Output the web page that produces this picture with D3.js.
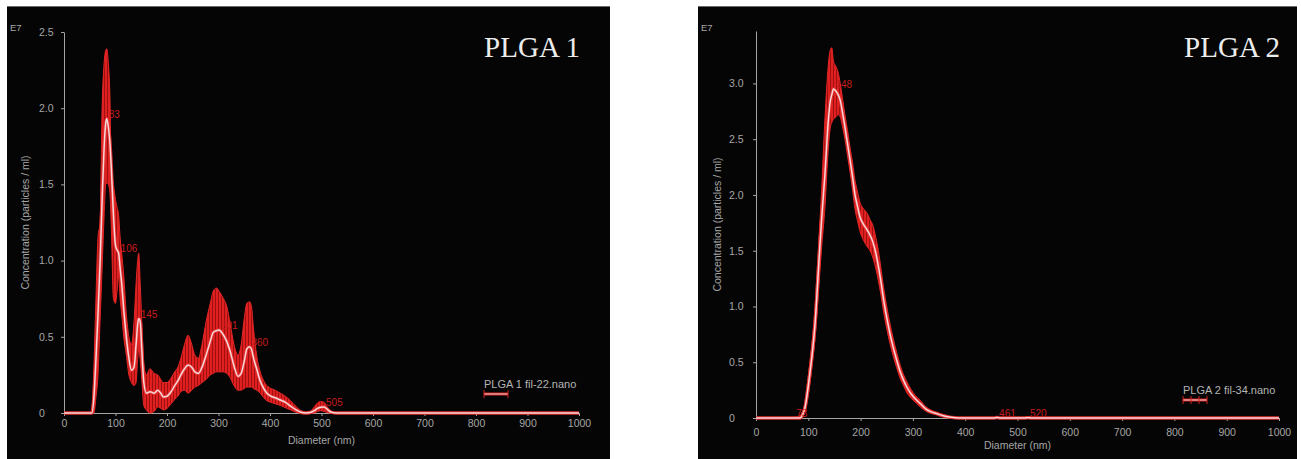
<!DOCTYPE html>
<html>
<head>
<meta charset="utf-8">
<script src="https://cdn.jsdelivr.net/npm/d3@7"></script>
<style>
body{margin:0;background:#fff;}
svg{display:block;}
</style>
</head>
<body>
<svg id="chart" width="1301" height="459"></svg>
<script>
// axis ticks
var xTicks = [0, 100, 200, 300, 400, 500, 600, 700, 800, 900, 1000];
var yTicks1 = [0, 0.5, 1.0, 1.5, 2.0, 2.5];
var yTicks2 = [0, 0.5, 1.0, 1.5, 2.0, 2.5, 3.0];

// PLGA 1 : diameter (nm), mean and error band (E7 particles / ml)
var plga1Diam = [0, 50, 54, 58, 62, 66, 70, 74, 78, 81, 83, 86, 89, 92, 96, 100, 103, 106, 109, 112, 116, 121, 126, 131, 136, 140, 143, 145, 148, 151, 155, 160, 167, 175, 182, 188, 193, 200, 208, 215, 221, 227, 234, 241, 248, 254, 261, 268, 276, 284, 290, 296, 301, 308, 316, 323, 330, 338, 344, 350, 355, 360, 364, 368, 374, 381, 388, 394, 402, 410, 420, 430, 440, 450, 460, 470, 478, 486, 492, 498, 505, 511, 518, 530, 1000];
var plga1Mean = [0, 0, 0, 0.1, 0.35, 0.65, 0.98, 1.4, 1.75, 1.9, 1.93, 1.88, 1.78, 1.6, 1.3, 1.1, 1.07, 1.05, 0.95, 0.85, 0.68, 0.5, 0.36, 0.28, 0.3, 0.45, 0.58, 0.62, 0.6, 0.42, 0.2, 0.13, 0.14, 0.13, 0.15, 0.13, 0.105, 0.11, 0.14, 0.18, 0.21, 0.25, 0.29, 0.315, 0.3, 0.27, 0.26, 0.3, 0.38, 0.47, 0.53, 0.54, 0.545, 0.52, 0.47, 0.4, 0.31, 0.24, 0.26, 0.34, 0.42, 0.435, 0.42, 0.36, 0.29, 0.21, 0.16, 0.13, 0.11, 0.1, 0.085, 0.07, 0.045, 0.022, 0.005, 0, 0.003, 0.015, 0.03, 0.038, 0.04, 0.025, 0.006, 0, 0];
var plga1Hi = [0, 0, 0.02, 0.3, 0.75, 1.15, 1.25, 2.0, 2.3, 2.38, 2.39, 2.3, 2.1, 1.6, 1.5, 1.4, 1.35, 1.3, 1.15, 1.05, 0.9, 0.65, 0.5, 0.45, 0.6, 0.85, 1.0, 1.05, 0.85, 0.6, 0.32, 0.25, 0.29, 0.26, 0.25, 0.22, 0.2, 0.2, 0.23, 0.27, 0.3, 0.36, 0.45, 0.51, 0.45, 0.38, 0.36, 0.45, 0.6, 0.72, 0.8, 0.82, 0.8, 0.76, 0.7, 0.58, 0.45, 0.38, 0.45, 0.62, 0.72, 0.73, 0.7, 0.55, 0.38, 0.27, 0.21, 0.18, 0.16, 0.15, 0.13, 0.11, 0.08, 0.045, 0.015, 0.003, 0.01, 0.04, 0.065, 0.075, 0.07, 0.04, 0.015, 0, 0];
var plga1Lo = [0, 0, 0, 0, 0.1, 0.25, 0.6, 0.95, 1.3, 1.5, 1.51, 1.5, 1.45, 1.2, 0.75, 0.72, 0.8, 0.9, 0.75, 0.65, 0.5, 0.38, 0.25, 0.2, 0.18, 0.2, 0.35, 0.41, 0.35, 0.22, 0.05, 0.02, 0, 0.01, 0.04, 0.03, 0.02, 0.03, 0.06, 0.09, 0.11, 0.14, 0.15, 0.13, 0.15, 0.17, 0.18, 0.2, 0.22, 0.25, 0.26, 0.27, 0.27, 0.27, 0.26, 0.23, 0.18, 0.15, 0.15, 0.16, 0.17, 0.17, 0.17, 0.16, 0.15, 0.13, 0.1, 0.08, 0.07, 0.06, 0.05, 0.035, 0.02, 0.005, 0, 0, 0, 0, 0.01, 0.015, 0.01, 0.003, 0, 0, 0];
var plga1Peaks = [83, 106, 145, 301, 360, 505];

// PLGA 2
var plga2Diam = [0, 60, 70, 78, 84, 90, 94, 98, 103, 108, 113, 119, 125, 132, 138, 142, 145, 148, 153, 157, 161, 165, 170, 175, 180, 185, 189, 194, 199, 205, 212, 218, 224, 229, 234, 239, 244, 250, 256, 262, 269, 276, 282, 288, 296, 305, 314, 325, 335, 345, 358, 370, 380, 395, 455, 461, 467, 514, 520, 526, 1000];
var plga2Mean = [0, 0, 0, 0, 0, 0.04, 0.1, 0.22, 0.4, 0.6, 0.85, 1.3, 1.75, 2.2, 2.65, 2.84, 2.9, 2.95, 2.93, 2.9, 2.85, 2.75, 2.61, 2.46, 2.31, 2.15, 2.01, 1.9, 1.8, 1.74, 1.69, 1.64, 1.57, 1.48, 1.36, 1.22, 1.06, 0.9, 0.76, 0.64, 0.52, 0.41, 0.34, 0.28, 0.22, 0.17, 0.13, 0.08, 0.055, 0.04, 0.02, 0.008, 0.003, 0, 0, 0.004, 0, 0, 0.003, 0, 0];
var plga2Hi = [0, 0, 0.005, 0.01, 0.02, 0.07, 0.15, 0.3, 0.5, 0.72, 1.0, 1.5, 2.0, 2.7, 3.15, 3.3, 3.32, 3.2, 3.15, 3.1, 3.0, 2.88, 2.72, 2.58, 2.42, 2.28, 2.14, 2.03, 1.93, 1.88, 1.84, 1.78, 1.72, 1.62, 1.5, 1.34, 1.17, 1.0, 0.85, 0.72, 0.59, 0.47, 0.39, 0.33, 0.26, 0.2, 0.16, 0.1, 0.07, 0.05, 0.03, 0.012, 0.005, 0.002, 0, 0.01, 0, 0, 0.008, 0, 0];
var plga2Lo = [0, 0, 0, 0, 0, 0.02, 0.06, 0.15, 0.3, 0.5, 0.72, 1.1, 1.5, 1.9, 2.4, 2.6, 2.65, 2.68, 2.7, 2.72, 2.7, 2.62, 2.5, 2.35, 2.2, 2.03, 1.88, 1.77, 1.67, 1.6, 1.54, 1.5, 1.43, 1.34, 1.23, 1.1, 0.95, 0.8, 0.67, 0.56, 0.45, 0.35, 0.29, 0.23, 0.18, 0.14, 0.1, 0.06, 0.04, 0.03, 0.01, 0.004, 0.001, 0, 0, 0, 0, 0, 0, 0, 0];
var plga2Peaks = [73, 148, 461, 520];

var svg = d3.select('#chart');

// striped fill for the error band
var defs = svg.append('defs');
var pat = defs.append('pattern')
  .attr('id', 'hatch')
  .attr('patternUnits', 'userSpaceOnUse')
  .attr('width', 3)
  .attr('height', 10);
pat.append('rect').attr('width', 3).attr('height', 10).attr('fill', '#9c1010');
pat.append('rect').attr('width', 2).attr('height', 10).attr('fill', '#e02020');

function zip(diam, mean, hi, lo){
  var out = [];
  for(var i = 0; i < diam.length; i ++){
    out.push({d: diam[i], m: mean[i], hi: hi[i], lo: lo[i]});
  }
  return out;
}

function drawPanel(p){
  var g = svg.append('g');

  // panel background
  g.append('rect')
   .attr('x', p.left)
   .attr('y', 7)
   .attr('width', p.width)
   .attr('height', 452)
   .attr('fill', '#050505');
  g.append('line')
   .attr('x1', p.left).attr('x2', p.left + p.width)
   .attr('y1', 6.5).attr('y2', 6.5)
   .style('stroke', '#6a6a6a');

  var x = d3.scaleLinear().domain([0, 1000]).range([p.x0, p.x1]);
  var y = d3.scaleLinear().domain([0, p.yMax]).range([p.yBase, p.yTop]);

  var data = zip(p.diam, p.mean, p.hi, p.lo);
  var fmt = function(d){ return d === 0 ? '0' : d3.format('.1f')(d); };

  // x axis
  var xa = g.append('g')
    .attr('transform', 'translate(0,' + p.yBase + ')')
    .call(d3.axisBottom(x).tickValues(xTicks).tickFormat(d3.format('d')).tickSize(3).tickPadding(p.xPad).tickSizeOuter(0));
  xa.select('.domain').style('stroke', '#a4a4a4');
  xa.selectAll('.tick line').style('stroke', '#a4a4a4');
  xa.selectAll('text')
    .style('fill', '#a6a6a6')
    .style('font-family', 'Liberation Sans, Arial, sans-serif')
    .style('font-size', '10.5px');

  // y axis
  var ya = g.append('g')
    .attr('transform', 'translate(' + p.x0 + ',0)')
    .call(d3.axisLeft(y).tickValues(p.yTicks).tickFormat(fmt).tickSize(3).tickSizeOuter(0));
  ya.select('.domain').style('stroke', '#a4a4a4');
  ya.selectAll('.tick line').style('stroke', '#a4a4a4');
  ya.selectAll('text')
    .attr('x', -p.yLabOff)
    .style('text-anchor', 'start')
    .style('fill', '#a6a6a6')
    .style('font-family', 'Liberation Sans, Arial, sans-serif')
    .style('font-size', '10.5px');

  g.append('text')
   .attr('x', p.left + 3)
   .attr('y', 31)
   .text('E7')
   .style('fill', '#a6a6a6')
   .style('font-family', 'Liberation Sans, Arial, sans-serif')
   .style('font-size', '9.5px');

  g.append('text')
   .attr('transform', 'translate(' + (p.x0 - 35) + ',' + ((p.yBase + p.yTop) / 2) + ') rotate(-90)')
   .attr('text-anchor', 'middle')
   .text('Concentration (particles / ml)')
   .style('fill', '#a6a6a6')
   .style('font-family', 'Liberation Sans, Arial, sans-serif')
   .style('font-size', '10.5px');

  g.append('text')
   .attr('x', x(500))
   .attr('y', p.yBase + 31)
   .attr('text-anchor', 'middle')
   .text('Diameter (nm)')
   .style('fill', '#a6a6a6')
   .style('font-family', 'Liberation Sans, Arial, sans-serif')
   .style('font-size', '10.5px');

  // error band
  var band = d3.area()
    .x(function(d){ return x(d.d); })
    .y0(function(d){ return y(d.lo); })
    .y1(function(d){ return y(d.hi); })
    .curve(d3.curveMonotoneX);
  g.append('path')
   .datum(data)
   .attr('d', band)
   .attr('fill', 'url(#hatch)')
   .style('stroke', '#e42626')
   .style('stroke-width', 1);

  // mean line
  var line = d3.line()
    .x(function(d){ return x(d.d); })
    .y(function(d){ return y(d.m); })
    .curve(d3.curveMonotoneX);
  g.append('path')
   .datum(data)
   .attr('d', line)
   .attr('fill', 'none')
   .style('stroke', '#e23030')
   .style('stroke-width', 3.5);
  g.append('path')
   .datum(data)
   .attr('d', line)
   .attr('fill', 'none')
   .style('stroke', '#f6d8d8')
   .style('stroke-width', 1.5);

  // peak labels
  var peakY = d3.scaleLinear().domain(p.diam).range(p.mean);
  g.selectAll('.peak')
   .data(p.peaks)
   .enter()
   .append('text')
   .attr('class', 'peak')
   .attr('x', function(d){ return x(d) + 2; })
   .attr('y', function(d){ return y(peakY(d)) - 1; })
   .text(function(d){ return d; })
   .style('fill', '#c81c1c')
   .style('font-family', 'Liberation Sans, Arial, sans-serif')
   .style('font-size', '10px');

  // title
  g.append('text')
   .attr('x', p.x1 + 1)
   .attr('y', 57)
   .attr('text-anchor', 'end')
   .text(p.title)
   .style('fill', '#ececec')
   .style('font-family', 'Liberation Serif, Times New Roman, serif')
   .style('font-size', '29px');

  // legend
  g.append('text')
   .attr('x', p.legX)
   .attr('y', p.legY)
   .text(p.legend)
   .style('fill', '#b4b4b4')
   .style('font-family', 'Liberation Sans, Arial, sans-serif')
   .style('font-size', '11px');
  var ly = p.legY + 6;
  g.append('line')
   .attr('x1', p.legX).attr('x2', p.legX + 24)
   .attr('y1', ly).attr('y2', ly)
   .style('stroke', '#d42020').style('stroke-width', 3);
  g.append('line')
   .attr('x1', p.legX).attr('x2', p.legX + 24)
   .attr('y1', ly).attr('y2', ly)
   .style('stroke', '#f2d4d4').style('stroke-width', 1);
  g.selectAll('.legtick')
   .data(p.legTicks)
   .enter()
   .append('line')
   .attr('x1', function(d){ return p.legX + d; })
   .attr('x2', function(d){ return p.legX + d; })
   .attr('y1', ly - 4).attr('y2', ly + 4)
   .style('stroke', '#d42020').style('stroke-width', 1);
}

drawPanel({
  left: 7, width: 603,
  x0: 64, x1: 579, yBase: 413, yTop: 32, yMax: 2.5,
  yTicks: yTicks1, yLabOff: 25, xPad: 4,
  diam: plga1Diam, mean: plga1Mean, hi: plga1Hi, lo: plga1Lo, peaks: plga1Peaks,
  title: 'PLGA 1', legend: 'PLGA 1 fil-22.nano', legX: 484, legY: 388, legTicks: [0, 24]
});

drawPanel({
  left: 698, width: 599,
  x0: 756, x1: 1279, yBase: 418, yTop: 31, yMax: 3.47,
  yTicks: yTicks2, yLabOff: 27, xPad: 8,
  diam: plga2Diam, mean: plga2Mean, hi: plga2Hi, lo: plga2Lo, peaks: plga2Peaks,
  title: 'PLGA 2', legend: 'PLGA 2 fil-34.nano', legX: 1183, legY: 394, legTicks: [0, 8, 16, 24]
});
</script>
</body>
</html>
